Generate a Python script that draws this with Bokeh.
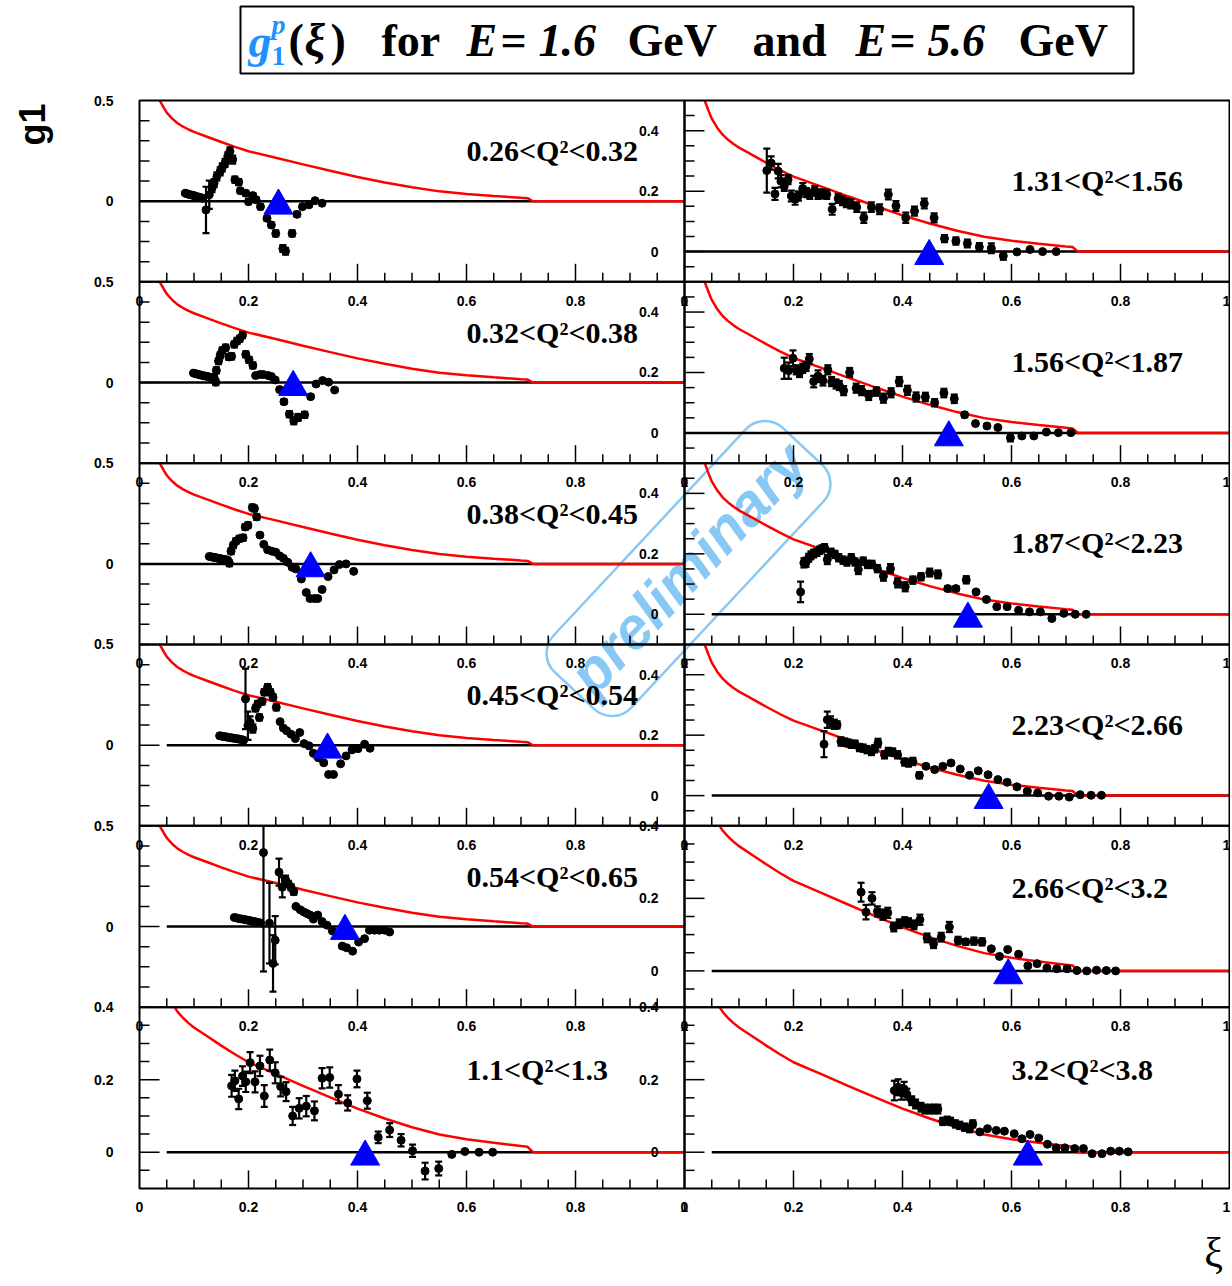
import numpy as np
from bokeh.plotting import figure
from bokeh.models import Range1d, Label
from bokeh.embed import file_html
from bokeh.resources import INLINE
from bokeh.core.properties import value

# ---------------- data ----------------
curve_xi = [0.037, 0.045, 0.05, 0.06, 0.07, 0.08, 0.09, 0.10, 0.125, 0.15, 0.175, 0.20, 0.25,
            0.30, 0.35, 0.40, 0.45, 0.50, 0.55, 0.60, 0.65, 0.70, 0.712, 0.722, 1.0]
curve_g1 = [0.50, 0.462, 0.44, 0.41, 0.387, 0.37, 0.356, 0.344, 0.319, 0.294, 0.27, 0.248, 0.216,
            0.183, 0.151, 0.120, 0.093, 0.069, 0.049, 0.036, 0.026, 0.017, 0.015, 0.0, 0.0]

q2_labels = ["0.26<Q²<0.32", "0.32<Q²<0.38", "0.38<Q²<0.45", "0.45<Q²<0.54", "0.54<Q²<0.65",
             "1.1<Q²<1.3", "1.31<Q²<1.56", "1.56<Q²<1.87", "1.87<Q²<2.23", "2.23<Q²<2.66",
             "2.66<Q²<3.2", "3.2<Q²<3.8"]
triangle_xi = [0.255, 0.282, 0.314, 0.345, 0.377, 0.414, 0.449, 0.485, 0.520, 0.558, 0.594, 0.630]
zero_line_start = [0.0, 0.0, 0.0, 0.05, 0.05, 0.05, 0.0, 0.0, 0.05, 0.05, 0.05, 0.05]
pad_ylo = [-0.4, -0.4, -0.4, -0.4, -0.4, -0.1, -0.1, -0.1, -0.1, -0.1, -0.1, -0.1]
pad_yhi = [0.5, 0.5, 0.5, 0.5, 0.5, 0.4, 0.5, 0.5, 0.5, 0.5, 0.4, 0.4]

x_tick_vals = [0.0, 0.2, 0.4, 0.6, 0.8, 1.0]
x_tick_labels = ["0", "0.2", "0.4", "0.6", "0.8", "1"]

p1_xi = [0.084,0.087,0.090,0.093,0.097,0.100,0.103,0.106,0.110,0.113,0.116,0.122,0.128,0.133,0.137,0.142,0.148,0.152,0.157,0.162,0.166,0.171,0.175,0.182,0.185,0.195,0.200,0.208,0.214,0.222,0.234,0.242,0.250,0.263,0.268,0.280,0.289,0.299,0.311,0.322,0.335]
p1_g1 = [0.040,0.037,0.035,0.032,0.030,0.028,0.025,0.022,0.020,0.017,0.015,-0.043,0.032,0.065,0.090,0.123,0.148,0.168,0.190,0.223,0.248,0.207,0.107,0.095,0.052,0.040,-0.002,0.028,0.007,-0.027,-0.085,-0.118,-0.160,-0.235,-0.248,-0.160,-0.065,-0.027,-0.018,0.003,-0.010]
p1_er = [0.003,0.003,0.003,0.003,0.003,0.003,0.003,0.003,0.003,0.003,0.003,0.115,0.07,0.02,0.02,0.02,0.02,0.02,0.02,0.02,0.02,0.02,0.015,0.015,0.012,0.012,0.012,0.012,0.012,0.012,0.012,0.012,0.015,0.017,0.017,0.015,0.012,0.01,0.008,0.006,0.005]

p2_xi = [0.099,0.103,0.106,0.110,0.113,0.117,0.121,0.125,0.129,0.133,0.137,0.140,0.141,0.145,0.148,0.152,0.158,0.164,0.169,0.174,0.179,0.184,0.189,0.195,0.201,0.208,0.213,0.221,0.227,0.236,0.242,0.249,0.257,0.265,0.275,0.283,0.291,0.303,0.314,0.324,0.336,0.347,0.358]
p2_g1 = [0.047,0.044,0.042,0.039,0.037,0.034,0.032,0.030,0.027,0.025,0.023,0.002,0.060,0.107,0.135,0.160,0.173,0.127,0.130,0.190,0.207,0.218,0.235,0.140,0.113,0.085,0.035,0.040,0.040,0.035,0.030,0.013,-0.035,-0.095,-0.157,-0.190,-0.173,-0.160,-0.070,-0.007,0.010,0.002,-0.037]
p2_er = [0.003,0.003,0.003,0.003,0.003,0.003,0.003,0.003,0.003,0.003,0.003,0.015,0.015,0.015,0.015,0.015,0.015,0.015,0.015,0.015,0.015,0.015,0.015,0.015,0.015,0.015,0.006,0.006,0.006,0.006,0.006,0.008,0.01,0.012,0.015,0.017,0.017,0.015,0.01,0.008,0.006,0.006,0.008]

p3_xi = [0.128,0.132,0.135,0.138,0.141,0.144,0.147,0.150,0.153,0.156,0.159,0.162,0.165,0.168,0.172,0.177,0.183,0.190,0.194,0.199,0.207,0.211,0.215,0.221,0.228,0.235,0.243,0.250,0.257,0.264,0.272,0.280,0.287,0.297,0.306,0.313,0.321,0.327,0.335,0.346,0.357,0.367,0.379,0.393]
p3_g1 = [0.037,0.035,0.033,0.032,0.030,0.028,0.027,0.025,0.023,0.022,0.020,0.018,0.003,0.063,0.092,0.113,0.125,0.130,0.183,0.192,0.280,0.275,0.233,0.143,0.097,0.070,0.063,0.058,0.040,0.028,0.008,-0.017,-0.025,-0.075,-0.142,-0.172,-0.172,-0.172,-0.127,-0.063,-0.030,-0.003,0.000,-0.037]
p3_er = [0.003,0.003,0.003,0.003,0.003,0.003,0.003,0.003,0.003,0.003,0.003,0.003,0.014,0.014,0.014,0.014,0.014,0.014,0.014,0.014,0.014,0.014,0.014,0.006,0.005,0.005,0.005,0.005,0.005,0.005,0.005,0.005,0.005,0.006,0.008,0.01,0.01,0.01,0.008,0.006,0.005,0.005,0.005,0.005]

p4_xi = [0.147,0.151,0.154,0.158,0.161,0.165,0.169,0.172,0.176,0.180,0.183,0.187,0.191,0.1945,0.199,0.203,0.208,0.213,0.217,0.220,0.225,0.229,0.235,0.240,0.245,0.251,0.258,0.264,0.270,0.278,0.286,0.294,0.302,0.311,0.319,0.328,0.338,0.347,0.356,0.369,0.379,0.390,0.401,0.413,0.423]
p4_g1 = [0.047,0.045,0.043,0.042,0.040,0.038,0.037,0.035,0.033,0.032,0.030,0.028,0.025,0.230,0.097,0.113,0.083,0.183,0.205,0.138,0.217,0.263,0.288,0.263,0.238,0.188,0.117,0.085,0.072,0.055,0.033,0.063,0.008,-0.003,-0.040,-0.062,-0.087,-0.145,-0.145,-0.092,-0.053,-0.023,-0.017,0.005,-0.015]
p4_er = [0.003,0.003,0.003,0.003,0.003,0.003,0.003,0.003,0.003,0.003,0.003,0.003,0.003,0.15,0.07,0.03,0.02,0.015,0.015,0.015,0.015,0.015,0.015,0.015,0.015,0.015,0.006,0.005,0.005,0.005,0.005,0.005,0.005,0.005,0.005,0.006,0.006,0.007,0.007,0.006,0.005,0.005,0.005,0.005,0.005]

p5_xi = [0.174,0.178,0.182,0.186,0.190,0.194,0.198,0.202,0.206,0.210,0.214,0.218,0.222,0.2275,0.2385,0.245,0.249,0.256,0.262,0.268,0.273,0.278,0.283,0.287,0.295,0.301,0.307,0.313,0.319,0.327,0.335,0.344,0.354,0.372,0.380,0.391,0.402,0.413,0.422,0.431,0.440,0.450,0.459]
p5_g1 = [0.045,0.043,0.040,0.038,0.037,0.034,0.032,0.030,0.027,0.025,0.023,0.020,0.018,0.367,0.017,-0.183,-0.068,0.270,0.195,0.233,0.212,0.195,0.173,0.100,0.083,0.073,0.065,0.057,0.037,0.057,0.025,0.007,-0.022,-0.097,-0.105,-0.122,-0.077,-0.060,-0.018,-0.018,-0.018,-0.018,-0.027]
p5_er = [0.003,0.003,0.003,0.003,0.003,0.003,0.003,0.003,0.003,0.003,0.003,0.003,0.003,0.59,0.20,0.14,0.12,0.067,0.05,0.02,0.015,0.015,0.015,0.005,0.005,0.005,0.005,0.005,0.005,0.005,0.005,0.005,0.005,0.005,0.005,0.005,0.005,0.005,0.005,0.005,0.005,0.005,0.005]

p6_xi = [0.169,0.175,0.182,0.189,0.195,0.203,0.212,0.221,0.229,0.239,0.249,0.259,0.269,0.281,0.293,0.306,0.321,0.335,0.349,0.365,0.382,0.399,0.418,0.438,0.459,0.480,0.501,0.524,0.549,0.573,0.597,0.623,0.648]
p6_g1 = [0.183,0.197,0.147,0.210,0.194,0.247,0.194,0.238,0.155,0.254,0.219,0.181,0.167,0.100,0.121,0.127,0.114,0.204,0.206,0.160,0.136,0.202,0.142,0.041,0.061,0.033,0.004,-0.052,-0.045,-0.006,0.002,0.000,0.000]
p6_er = [0.03,0.028,0.028,0.027,0.028,0.029,0.029,0.028,0.03,0.029,0.029,0.027,0.026,0.025,0.028,0.028,0.026,0.028,0.028,0.025,0.021,0.023,0.022,0.016,0.019,0.017,0.017,0.023,0.019,0.005,0.004,0.004,0.004]

p7_xi = [0.151,0.159,0.166,0.172,0.177,0.183,0.190,0.196,0.203,0.209,0.217,0.224,0.230,0.239,0.245,0.253,0.261,0.271,0.282,0.290,0.297,0.305,0.316,0.329,0.343,0.358,0.374,0.388,0.406,0.422,0.440,0.458,0.477,0.498,0.519,0.541,0.563,0.585,0.610,0.634,0.657,0.682]
p7_g1 = [0.268,0.293,0.191,0.266,0.233,0.216,0.238,0.184,0.173,0.184,0.209,0.195,0.189,0.202,0.189,0.191,0.189,0.140,0.176,0.169,0.162,0.158,0.147,0.112,0.147,0.140,0.189,0.151,0.112,0.134,0.159,0.112,0.043,0.035,0.027,0.015,0.011,-0.014,-0.001,0.007,0.000,0.000]
p7_er = [0.073,0.022,0.02,0.024,0.02,0.015,0.015,0.018,0.018,0.015,0.018,0.015,0.015,0.015,0.015,0.015,0.015,0.018,0.015,0.015,0.015,0.015,0.016,0.017,0.016,0.016,0.016,0.016,0.017,0.015,0.016,0.015,0.012,0.012,0.013,0.013,0.016,0.013,0.004,0.004,0.004,0.004]

p8_xi = [0.183,0.191,0.199,0.205,0.211,0.217,0.223,0.229,0.237,0.245,0.254,0.263,0.270,0.278,0.284,0.292,0.303,0.315,0.325,0.338,0.352,0.365,0.379,0.394,0.409,0.425,0.442,0.459,0.476,0.495,0.514,0.534,0.555,0.575,0.598,0.619,0.641,0.664,0.686,0.709]
p8_g1 = [0.214,0.206,0.247,0.209,0.200,0.214,0.220,0.245,0.170,0.188,0.173,0.209,0.170,0.162,0.157,0.140,0.200,0.148,0.140,0.124,0.137,0.115,0.133,0.170,0.141,0.119,0.119,0.100,0.132,0.113,0.060,0.031,0.023,0.018,-0.016,-0.010,-0.010,0.003,0.001,0.001]
p8_er = [0.035,0.027,0.026,0.015,0.015,0.015,0.015,0.016,0.019,0.019,0.016,0.015,0.015,0.015,0.015,0.015,0.015,0.015,0.015,0.015,0.014,0.015,0.015,0.015,0.015,0.015,0.014,0.012,0.014,0.014,0.008,0.005,0.005,0.005,0.012,0.005,0.005,0.004,0.004,0.004]

p9_xi = [0.213,0.219,0.223,0.228,0.232,0.237,0.243,0.248,0.252,0.257,0.262,0.269,0.276,0.283,0.291,0.298,0.306,0.313,0.319,0.328,0.336,0.344,0.354,0.365,0.378,0.391,0.405,0.419,0.434,0.450,0.465,0.483,0.498,0.517,0.535,0.554,0.573,0.592,0.613,0.633,0.653,0.674,0.696,0.717,0.737]
p9_g1 = [0.074,0.170,0.172,0.187,0.195,0.201,0.205,0.212,0.216,0.220,0.181,0.205,0.198,0.187,0.179,0.173,0.187,0.173,0.148,0.176,0.165,0.165,0.151,0.126,0.151,0.104,0.091,0.113,0.124,0.138,0.132,0.085,0.085,0.114,0.074,0.049,0.025,0.025,0.013,0.008,0.008,-0.014,0.003,0.000,0.000]
p9_er = [0.034,0.015,0.015,0.013,0.013,0.013,0.012,0.012,0.012,0.012,0.015,0.012,0.012,0.012,0.012,0.012,0.012,0.012,0.015,0.012,0.012,0.012,0.012,0.015,0.015,0.015,0.015,0.012,0.012,0.013,0.013,0.008,0.008,0.012,0.005,0.005,0.005,0.005,0.004,0.004,0.004,0.006,0.004,0.004,0.004]

p10_xi = [0.256,0.262,0.268,0.275,0.280,0.287,0.294,0.300,0.306,0.313,0.321,0.328,0.335,0.343,0.349,0.355,0.367,0.374,0.382,0.391,0.404,0.411,0.419,0.431,0.443,0.459,0.474,0.489,0.506,0.523,0.539,0.557,0.575,0.592,0.610,0.629,0.648,0.668,0.687,0.706,0.726,0.746,0.765]
p10_g1 = [0.170,0.251,0.245,0.236,0.234,0.179,0.177,0.174,0.170,0.170,0.159,0.157,0.152,0.146,0.155,0.174,0.135,0.146,0.144,0.135,0.111,0.108,0.113,0.067,0.097,0.086,0.097,0.108,0.088,0.067,0.082,0.069,0.053,0.044,0.029,0.014,0.009,-0.002,-0.002,-0.005,0.003,0.001,0.001]
p10_er = [0.043,0.027,0.017,0.015,0.012,0.014,0.012,0.012,0.012,0.012,0.012,0.012,0.012,0.012,0.012,0.014,0.012,0.012,0.012,0.012,0.012,0.012,0.012,0.01,0.006,0.006,0.005,0.005,0.005,0.005,0.005,0.005,0.005,0.005,0.005,0.005,0.004,0.004,0.004,0.004,0.004,0.004,0.004]

p11_xi = [0.324,0.333,0.344,0.354,0.364,0.373,0.384,0.394,0.404,0.411,0.421,0.432,0.445,0.457,0.471,0.486,0.502,0.516,0.531,0.546,0.563,0.578,0.593,0.613,0.630,0.647,0.665,0.683,0.702,0.720,0.738,0.756,0.774,0.791]
p11_g1 = [0.217,0.162,0.200,0.164,0.155,0.160,0.121,0.130,0.136,0.133,0.127,0.141,0.091,0.075,0.093,0.121,0.084,0.080,0.082,0.080,0.061,0.040,0.059,0.046,0.014,0.020,0.008,0.006,0.006,0.001,0.000,0.002,0.001,0.000]
p11_er = [0.026,0.02,0.017,0.014,0.014,0.014,0.012,0.012,0.012,0.012,0.012,0.014,0.012,0.012,0.012,0.014,0.01,0.008,0.01,0.01,0.004,0.004,0.004,0.004,0.004,0.004,0.004,0.004,0.004,0.004,0.004,0.004,0.004,0.004]

p12_xi = [0.385,0.392,0.398,0.403,0.408,0.417,0.424,0.434,0.441,0.450,0.458,0.465,0.474,0.482,0.488,0.497,0.505,0.514,0.523,0.529,0.542,0.556,0.572,0.587,0.605,0.619,0.634,0.650,0.666,0.682,0.698,0.716,0.732,0.748,0.766,0.782,0.798,0.814]
p12_g1 = [0.170,0.179,0.165,0.174,0.160,0.142,0.133,0.124,0.119,0.119,0.119,0.119,0.085,0.088,0.085,0.078,0.074,0.069,0.065,0.078,0.056,0.065,0.060,0.058,0.051,0.037,0.049,0.039,0.022,0.012,0.012,0.010,0.010,-0.004,-0.004,0.003,0.003,0.001]
p12_er = [0.027,0.022,0.02,0.02,0.015,0.012,0.012,0.012,0.012,0.012,0.012,0.012,0.01,0.01,0.01,0.01,0.01,0.01,0.01,0.01,0.004,0.004,0.004,0.004,0.004,0.004,0.004,0.004,0.004,0.004,0.004,0.004,0.004,0.004,0.004,0.004,0.004,0.004]

pads = [(p1_xi, p1_g1, p1_er), (p2_xi, p2_g1, p2_er), (p3_xi, p3_g1, p3_er),
        (p4_xi, p4_g1, p4_er), (p5_xi, p5_g1, p5_er), (p6_xi, p6_g1, p6_er),
        (p7_xi, p7_g1, p7_er), (p8_xi, p8_g1, p8_er), (p9_xi, p9_g1, p9_er),
        (p10_xi, p10_g1, p10_er), (p11_xi, p11_g1, p11_er), (p12_xi, p12_g1, p12_er)]

# ---------------- layout / style ----------------
FW, FH = 1230, 1284
XL0, PW = 139.0, 545.0
TOP, RH = 100.0, 181.33
label_y = [0.25, 0.25, 0.25, 0.25, 0.25, 0.229, 0.236, 0.236, 0.236, 0.236, 0.229, 0.229]
LBL_FONT = value("Liberation Sans")
SERIF = value("Liberation Serif")


def clip_curve(xs, ys, top):
    xs = np.asarray(xs, float)
    ys = np.asarray(ys, float)
    above = np.where(ys > top)[0]
    if len(above) == 0:
        return xs, ys
    i = above[-1]
    xc = xs[i] + (top - ys[i]) * (xs[i + 1] - xs[i]) / (ys[i + 1] - ys[i])
    return np.r_[xc, xs[i + 1:]], np.r_[top, ys[i + 1:]]


p = figure(width=FW, height=FH, x_range=Range1d(0, FW), y_range=Range1d(FH, 0),
           x_axis_type=None, y_axis_type=None, toolbar_location=None,
           output_backend="svg", min_border=0, outline_line_color=None)
p.background_fill_color = "white"

for k in range(12):
    col, row = k // 6, k % 6
    ylo, yhi = pad_ylo[k], pad_yhi[k]
    x0 = XL0 + col * PW
    yt = TOP + row * RH
    yb = yt + RH
    s = p.subplot(x_source=Range1d(0, 1), y_source=Range1d(ylo, yhi),
                  x_target=Range1d(x0, x0 + PW), y_target=Range1d(yb, yt))
    ypp = (yhi - ylo) / RH
    xpp = 1.0 / PW

    # zero line and model curve
    s.line([zero_line_start[k], 1.0], [0.0, 0.0], line_color="black", line_width=2.5)
    cx, cy = clip_curve(curve_xi, curve_g1, yhi)
    s.line(cx, cy, line_color="#ff0000", line_width=2.5)

    # data with error bars
    xi, g1, er = pads[k]
    n = min(len(xi), len(g1), len(er))
    xi = np.asarray(xi[:n]); g1 = np.asarray(g1[:n]); er = np.asarray(er[:n])
    lo = np.clip(g1 - er, ylo, yhi)
    hi = np.clip(g1 + er, ylo, yhi)
    s.segment(x0=xi, y0=lo, x1=xi, y1=hi, line_color="black", line_width=2.2)
    cap_x = np.r_[xi[(g1 + er) < yhi], xi[(g1 - er) > ylo]]
    cap_y = np.r_[(g1 + er)[(g1 + er) < yhi], (g1 - er)[(g1 - er) > ylo]]
    s.scatter(cap_x, cap_y, marker="dash", size=7, line_color="black", line_width=2.2)
    s.scatter(xi, g1, marker="circle", size=8, fill_color="black", line_color="black")

    # triangle marker
    s.scatter([triangle_xi[k]], [0.0 - 4.5 * ypp], marker="triangle", size=29,
              fill_color="#0000ff", line_color="#0000ff")

    # Q2 label
    s.text(x=[0.6], y=[label_y[k]], text=[q2_labels[k]], text_font=SERIF,
           text_font_style="bold", text_font_size="30px", text_align="left",
           text_baseline="middle", text_color="black")

    # x ticks (bottom, inside)
    xt_minor = [0.05, 0.1, 0.15, 0.25, 0.3, 0.35, 0.45, 0.5, 0.55, 0.65, 0.7, 0.75, 0.85, 0.9, 0.95]
    xt_major = [0.2, 0.4, 0.6, 0.8]
    s.segment(x0=xt_minor, y0=[ylo] * len(xt_minor), x1=xt_minor,
              y1=[ylo + 9 * ypp] * len(xt_minor), line_color="black", line_width=1.5)
    s.segment(x0=xt_major, y0=[ylo] * len(xt_major), x1=xt_major,
              y1=[ylo + 18 * ypp] * len(xt_major), line_color="black", line_width=1.5)

    # y ticks (left, inside)
    if yhi - ylo > 0.85:
        yt_minor = [-0.4, -0.3, -0.2, -0.1, 0.1, 0.2, 0.3, 0.4]
        yt_major = [0.0]
        y_lab_v, y_lab_t = [0.0, 0.5], ["0", "0.5"]
    else:
        yt_minor = [v for v in [-0.05, 0.05, 0.1, 0.15, 0.25, 0.3, 0.35, 0.45] if v < yhi]
        yt_major = [0.0, 0.2] + ([0.4] if yhi > 0.45 else [])
        y_lab_v, y_lab_t = [0.0, 0.2, 0.4], ["0", "0.2", "0.4"]
    s.segment(x0=[0] * len(yt_minor), y0=yt_minor, x1=[10 * xpp] * len(yt_minor),
              y1=yt_minor, line_color="black", line_width=1.5)
    s.segment(x0=[0] * len(yt_major), y0=yt_major, x1=[20 * xpp] * len(yt_major),
              y1=yt_major, line_color="black", line_width=1.5)

    # frame
    s.quad(left=[0], right=[1], bottom=[ylo], top=[yhi], fill_color=None,
           line_color="black", line_width=2)

    # tick labels
    x_off = [0, 0, 0, 0, 0, -3 if col == 1 else 0]
    s.text(x=x_tick_vals, y=[ylo] * len(x_tick_vals), text=x_tick_labels, y_offset=19,
           x_offset=x_off, text_font=LBL_FONT, text_font_style="bold", text_font_size="14px",
           text_align="center", text_baseline="middle", text_color="black")
    s.text(x=[0] * len(y_lab_v), y=y_lab_v, text=y_lab_t, x_offset=-26,
           text_font=LBL_FONT, text_font_style="bold", text_font_size="14px",
           text_align="right", text_baseline="middle", text_color="black")

# ---------------- title ----------------
p.quad(left=[240], right=[1133], top=[6], bottom=[73], fill_color="white",
       line_color="black", line_width=2)
title_parts = [
    ("g", 248, 41, "#1e90ff", "bold italic", "46px"),
    ("p", 271, 24, "#1e90ff", "bold italic", "28px"),
    ("1", 271, 55, "#1e90ff", "bold", "28px"),
    ("(", 288, 40, "black", "bold", "46px"),
    ("ξ", 304, 40, "black", "bold italic", "46px"),
    (")", 330, 40, "black", "bold", "46px"),
    ("for", 381, 40, "black", "bold", "46px"),
    ("E", 466, 40, "black", "bold italic", "46px"),
    ("=", 500, 40, "black", "bold", "46px"),
    ("1.6", 538, 40, "black", "bold italic", "46px"),
    ("GeV", 627, 40, "black", "bold", "46px"),
    ("and", 752, 40, "black", "bold", "46px"),
    ("E", 855, 40, "black", "bold italic", "46px"),
    ("=", 889, 40, "black", "bold", "46px"),
    ("5.6", 927, 40, "black", "bold italic", "46px"),
    ("GeV", 1018, 40, "black", "bold", "46px"),
]
for t, tx, ty, tc, fs, sz in title_parts:
    p.text(x=[tx], y=[ty], text=[t], text_font=SERIF, text_font_style=fs,
           text_font_size=sz, text_color=tc, text_align="left", text_baseline="middle")

# axis titles
p.text(x=[32], y=[124], text=["g1"], angle=[np.pi / 2], text_font=LBL_FONT,
       text_font_style="bold", text_font_size="36px", text_align="center",
       text_baseline="middle", text_color="black")
p.text(x=[1213], y=[1252], text=["ξ"], text_font=SERIF, text_font_size="42px",
       text_align="center", text_baseline="middle", text_color="black")

# watermark
wm = Label(x=688, y=568, text="preliminary", angle=47, angle_units="deg",
           text_align="center", text_baseline="middle", text_font="Liberation Sans",
           text_font_style="bold italic", text_font_size="59px", text_color="#88c8f4",
           border_line_color="#88c8f4", border_line_width=2.5, border_radius=26,
           padding=(8, 20), level="underlay")
p.add_layout(wm)

open("out.html", "w").write(file_html(p, INLINE))
